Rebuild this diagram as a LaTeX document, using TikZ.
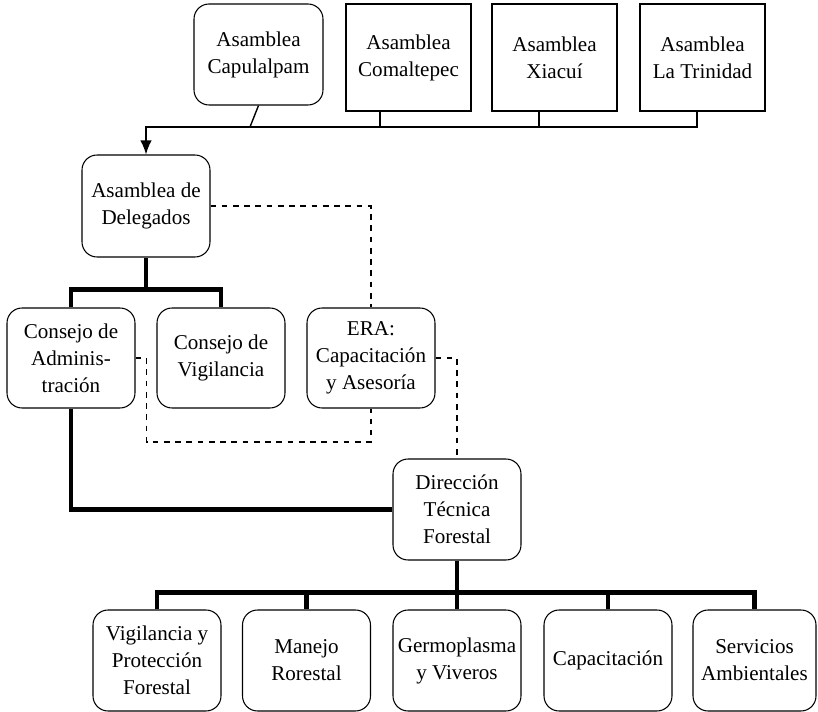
\documentclass[tikz,border=0pt]{standalone}
\usepackage{fontspec}
\setmainfont{Liberation Serif}
\newfontfamily\orgfont{Liberation Serif}
\usepackage{tikz}
\usetikzlibrary{arrows.meta,positioning}
\tikzset{
	>={Latex[length=8pt,width=6.5pt]},
	thinconn/.style={draw, line width=0.8pt},
	boldconn/.style={draw, line width=2.3pt},
	dashline/.style={draw, line width=0.6pt, dash pattern=on 3.2pt off 3.2pt},
}

\begin{document}
\begin{tikzpicture}[x=0.02cm,y=-0.02cm]
    \tikzset{block/.style= {draw, line width=0.6pt, rectangle, align=center, inner sep=1pt,
        font=\orgfont\fontsize{12}{15.4}\selectfont, minimum width=2.5cm, minimum height=2.14cm},
      rblock/.style={draw, line width=0.6pt, shape=rectangle, rounded corners=0.3cm, align=center, inner sep=1pt,
        font=\orgfont\fontsize{12}{15.4}\selectfont, minimum width=2.56cm, minimum height=2cm},
    }
    \useasboundingbox (0,0) rectangle (818,712);

    % asambleas
    \node[rblock, minimum width=2.58cm, minimum height=2.02cm] at (258.5,54.5) (capulalpam) {Asamblea\\Capulalpam};
    \node[block] at (408.5,57.5) (comaltepec) {Asamblea\\Comaltepec};
    \node[block] at (554.5,57.5) (xiacui) {Asamblea\\Xiacuí};
    \node[block] at (702.5,57.5) (trinidad) {Asamblea\\La Trinidad};

    \node[rblock, minimum height=2.04cm] at (146,206) (delegados) {Asamblea de\\Delegados};

    % consejos
    \node[rblock] at (71,358) (cadmin) {Consejo de\\Adminis-\\tración};
    \node[rblock] at (221,358) (cvig) {Consejo de\\Vigilancia};
    \node[rblock] at (371,358) (era) {ERA:\\Capacitación\\y Asesoría};

    \node[rblock, minimum height=2.02cm] at (457,509.5) (dtf) {Dirección\\Técnica\\Forestal};

    % areas
    \node[rblock, minimum height=2.02cm] at (157,660.5) (vigprot) {Vigilancia y\\Protección\\Forestal};
    \node[rblock, minimum height=2.02cm] at (306.5,660.5) (manejo) {Manejo\\Rorestal};
    \node[rblock, minimum height=2.02cm] at (457,660.5) (germo) {Germoplasma\\y Viveros};
    \node[rblock, minimum height=2.02cm] at (608,660.5) (capac) {Capacitación};
    \node[rblock, minimum height=2.02cm, minimum width=2.46cm] at (754.5,660.5) (servamb) {Servicios\\Ambientales};

    \coordinate (bus) at (146,127);
    \coordinate (capbus) at (250,127);
    \coordinate (lowdash) at (371,442);

    \path[thinconn,->] (trinidad.south) ++(-5.5,0) |- (bus) -- (delegados.north);
    \path[thinconn] (comaltepec.south) ++(-28.5,0) -- ++(0,16);
    \path[thinconn] (xiacui.south) ++(-15.5,0) -- ++(0,16);
    \path[thinconn] (capulalpam.south) -- (capbus);

    \path[boldconn] (delegados.south) -- ++(0,33);
    \path[boldconn] (cadmin.north) -- ++(0,-18) -| (cvig.north);
    \path[boldconn] (cadmin.south) |- (dtf.west);
    \path[boldconn] (dtf.south) -- (germo.north);
    \path[boldconn] (vigprot.north) -- ++(0,-17) -| (servamb.north);
    \foreach \n in {manejo,capac}
      \path[boldconn] (\n.north) -- ++(0,-17);

    \path[dashline] (delegados.east) -| (era.north);
    \path[dashline] (cadmin.east) -- ++(11,0) |- (lowdash) -- (era.south);
    \path[dashline] (era.east) -| (dtf.north);
  \end{tikzpicture}
\end{document}
